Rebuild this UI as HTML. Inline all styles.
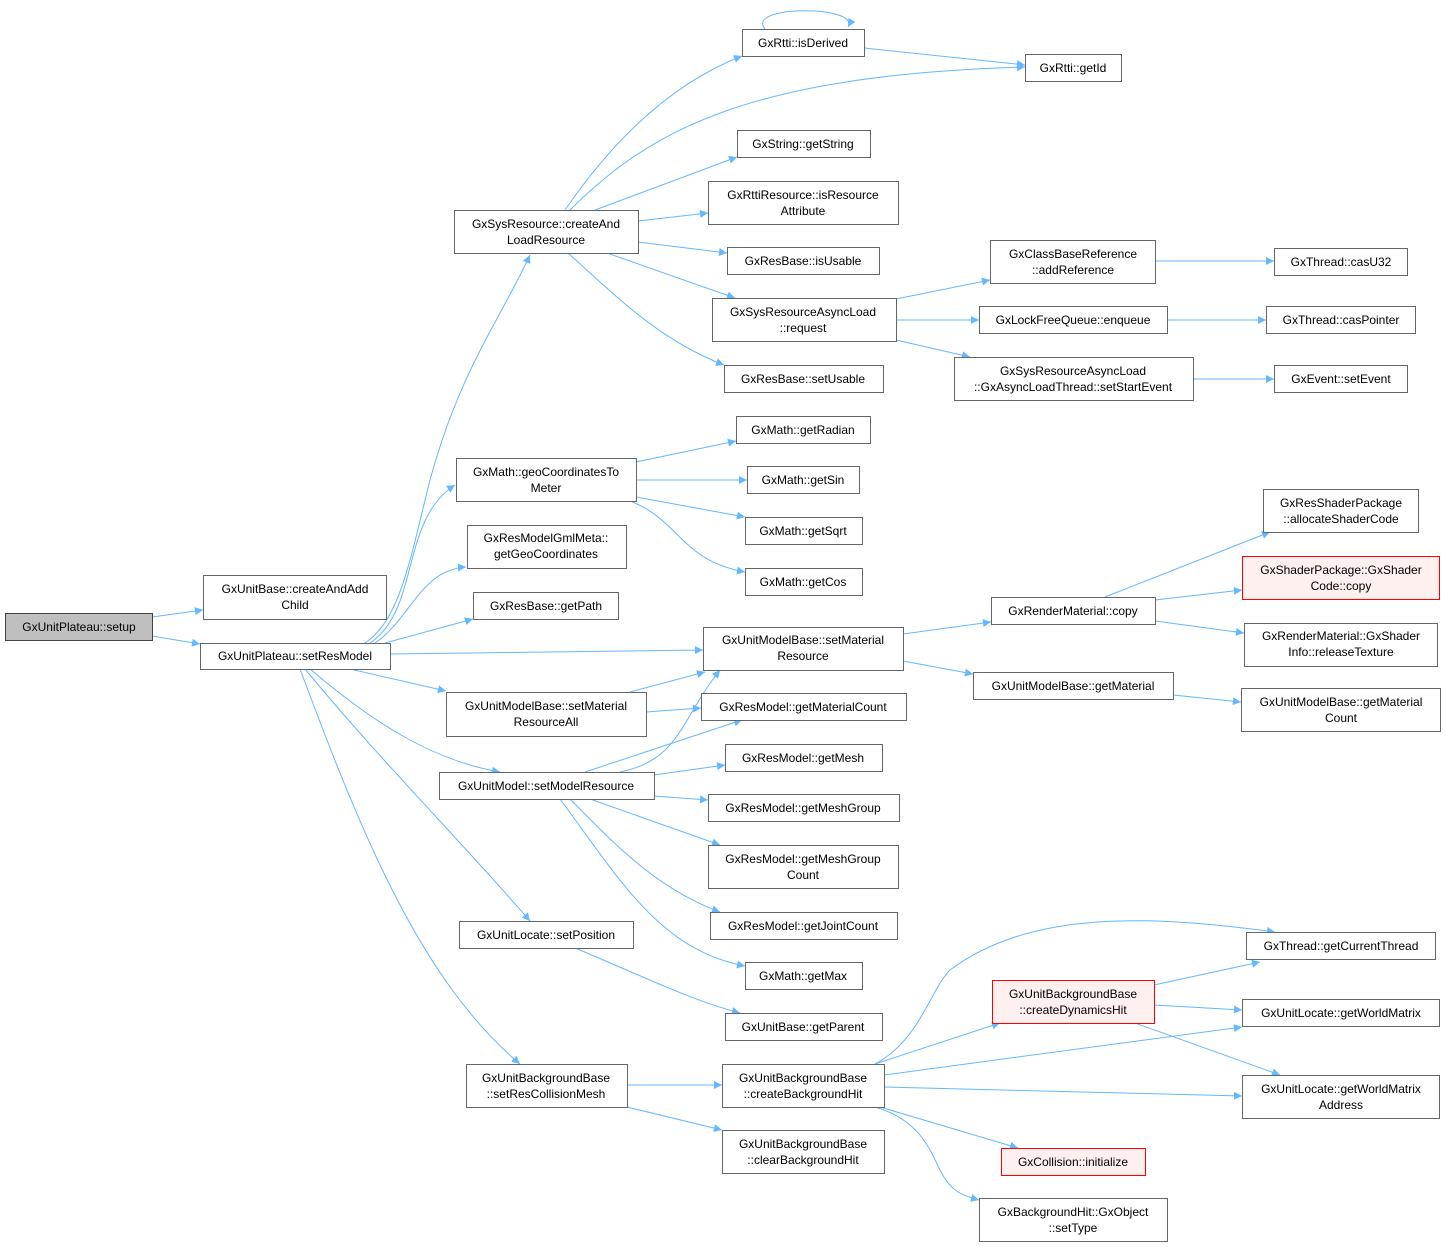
<!DOCTYPE html>
<html><head><meta charset="utf-8"><style>
html,body{margin:0;padding:0;background:#fff;}
svg{display:block}
text{font-family:"Liberation Sans",sans-serif;font-size:12px;fill:#000;text-anchor:middle}
.n{fill:#fff;stroke:#666;stroke-width:1}
.r{fill:#fff0f0;stroke:#f00;stroke-width:1}
.g{fill:#bfbfbf;stroke:#444;stroke-width:1}
.e{fill:none;stroke:#63b8ff;stroke-width:1;marker-end:url(#a)}
</style></head><body>
<svg width="1446" height="1247" viewBox="0 0 1446 1247" xmlns="http://www.w3.org/2000/svg">
<defs><marker id="a" viewBox="0 0 10 10" refX="10" refY="5" markerWidth="10" markerHeight="8" orient="auto" markerUnits="userSpaceOnUse"><path d="M0,0 L10,5 L0,10 z" fill="#63b8ff"/></marker></defs>
<g>
<path class="e" d="M152,617 L203,610"/>
<path class="e" d="M152,636 L200,644"/>
<path class="e" d="M365,643 C400,620 410,560 430,480 C460,370 500,320 530,255"/>
<path class="e" d="M370,643 C420,610 400,520 455,485"/>
<path class="e" d="M375,643 C410,620 420,570 466,567"/>
<path class="e" d="M385,643 L473,619"/>
<path class="e" d="M390,654 L703,650"/>
<path class="e" d="M350,669 L446,691"/>
<path class="e" d="M310,669 C370,720 430,760 500,772"/>
<path class="e" d="M305,669 C380,760 460,840 530,921"/>
<path class="e" d="M300,669 C360,830 420,980 520,1064"/>
<path class="e" d="M565,210 C620,130 680,80 742,56"/>
<path class="e" d="M570,210 C650,130 750,75 1025,67"/>
<path class="e" d="M595,210 L737,157"/>
<path class="e" d="M638,221 L708,213"/>
<path class="e" d="M638,242 L727,253"/>
<path class="e" d="M607,253 L735,298"/>
<path class="e" d="M568,253 C620,300 660,340 724,365"/>
<path class="e" d="M765,29 C745,5 860,5 848,27"/>
<path class="e" d="M864,48 L1025,65"/>
<path class="e" d="M896,299 L990,280"/>
<path class="e" d="M896,320 L979,320"/>
<path class="e" d="M896,340 L970,357"/>
<path class="e" d="M1155,261 L1274,261"/>
<path class="e" d="M1167,320 L1266,320"/>
<path class="e" d="M1193,379 L1274,379"/>
<path class="e" d="M636,462 L736,441"/>
<path class="e" d="M636,480 L747,480"/>
<path class="e" d="M636,497 L745,517"/>
<path class="e" d="M630,501 C680,520 680,560 745,572"/>
<path class="e" d="M903,634 L991,622"/>
<path class="e" d="M903,661 L973,674"/>
<path class="e" d="M1105,597 L1270,532"/>
<path class="e" d="M1155,600 L1242,590"/>
<path class="e" d="M1155,621 L1244,633"/>
<path class="e" d="M1173,695 L1241,702"/>
<path class="e" d="M630,692 L705,672"/>
<path class="e" d="M646,712 L701,708"/>
<path class="e" d="M620,772 C680,760 680,720 720,670"/>
<path class="e" d="M585,772 L742,720"/>
<path class="e" d="M654,775 L725,765"/>
<path class="e" d="M654,796 L708,800"/>
<path class="e" d="M590,799 L720,845"/>
<path class="e" d="M570,799 C620,850 660,890 720,912"/>
<path class="e" d="M560,799 C620,880 660,950 745,966"/>
<path class="e" d="M575,948 C640,975 690,1000 740,1013"/>
<path class="e" d="M627,1085 L722,1085"/>
<path class="e" d="M627,1107 L722,1130"/>
<path class="e" d="M875,1064 C920,1040 930,990 950,970 C1030,910 1150,915 1275,932"/>
<path class="e" d="M875,1064 L1000,1023"/>
<path class="e" d="M884,1075 L1242,1027"/>
<path class="e" d="M884,1087 L1242,1096"/>
<path class="e" d="M880,1107 L1018,1148"/>
<path class="e" d="M875,1107 C920,1120 930,1150 940,1170 C950,1190 960,1195 979,1200"/>
<path class="e" d="M1154,985 L1260,962"/>
<path class="e" d="M1154,1005 L1242,1010"/>
<path class="e" d="M1135,1023 L1280,1075"/>
</g>
<g>
<rect class="g" x="5.5" y="613.5" width="147" height="27"/><text x="79" y="631">GxUnitPlateau::setup</text>
<rect class="n" x="203.5" y="575.5" width="183" height="44"/><text x="295" y="593">GxUnitBase::createAndAdd</text><text x="295" y="609">Child</text>
<rect class="n" x="200.5" y="643.5" width="190" height="26"/><text x="295" y="660">GxUnitPlateau::setResModel</text>
<rect class="n" x="454.5" y="210.5" width="184" height="43"/><text x="546" y="228">GxSysResource::createAnd</text><text x="546" y="244">LoadResource</text>
<rect class="n" x="456.5" y="458.5" width="180" height="43"/><text x="546" y="476">GxMath::geoCoordinatesTo</text><text x="546" y="492">Meter</text>
<rect class="n" x="467.5" y="525.5" width="159" height="43"/><text x="546" y="542">GxResModelGmlMeta::</text><text x="546" y="558">getGeoCoordinates</text>
<rect class="n" x="473.5" y="592.5" width="145" height="27"/><text x="546" y="610">GxResBase::getPath</text>
<rect class="n" x="446.5" y="692.5" width="200" height="44"/><text x="546" y="710">GxUnitModelBase::setMaterial</text><text x="546" y="726">ResourceAll</text>
<rect class="n" x="439.5" y="772.5" width="215" height="27"/><text x="546" y="790">GxUnitModel::setModelResource</text>
<rect class="n" x="459.5" y="921.5" width="174" height="27"/><text x="546" y="939">GxUnitLocate::setPosition</text>
<rect class="n" x="466.5" y="1064.5" width="161" height="43"/><text x="546" y="1082">GxUnitBackgroundBase</text><text x="546" y="1098">::setResCollisionMesh</text>

<rect class="n" x="742.5" y="29.5" width="122" height="27"/><text x="803" y="47">GxRtti::isDerived</text>
<rect class="n" x="1025.5" y="54.5" width="96" height="27"/><text x="1073" y="72">GxRtti::getId</text>
<rect class="n" x="737.5" y="130.5" width="133" height="27"/><text x="803" y="148">GxString::getString</text>
<rect class="n" x="708.5" y="181.5" width="190" height="43"/><text x="803" y="199">GxRttiResource::isResource</text><text x="803" y="215">Attribute</text>
<rect class="n" x="727.5" y="247.5" width="152" height="27"/><text x="803" y="265">GxResBase::isUsable</text>
<rect class="n" x="712.5" y="298.5" width="184" height="43"/><text x="803" y="316">GxSysResourceAsyncLoad</text><text x="803" y="332">::request</text>
<rect class="n" x="724.5" y="365.5" width="159" height="27"/><text x="803" y="383">GxResBase::setUsable</text>
<rect class="n" x="736.5" y="416.5" width="134" height="27"/><text x="803" y="434">GxMath::getRadian</text>
<rect class="n" x="747.5" y="466.5" width="112" height="27"/><text x="803" y="484">GxMath::getSin</text>
<rect class="n" x="745.5" y="517.5" width="117" height="27"/><text x="803" y="535">GxMath::getSqrt</text>
<rect class="n" x="745.5" y="568.5" width="117" height="27"/><text x="803" y="586">GxMath::getCos</text>
<rect class="n" x="703.5" y="627.5" width="200" height="43"/><text x="803" y="644">GxUnitModelBase::setMaterial</text><text x="803" y="660">Resource</text>
<rect class="n" x="701.5" y="693.5" width="205" height="27"/><text x="803" y="711">GxResModel::getMaterialCount</text>
<rect class="n" x="725.5" y="744.5" width="157" height="27"/><text x="803" y="762">GxResModel::getMesh</text>
<rect class="n" x="708.5" y="794.5" width="191" height="27"/><text x="803" y="812">GxResModel::getMeshGroup</text>
<rect class="n" x="708.5" y="845.5" width="190" height="43"/><text x="803" y="863">GxResModel::getMeshGroup</text><text x="803" y="879">Count</text>
<rect class="n" x="710.5" y="912.5" width="187" height="27"/><text x="803" y="930">GxResModel::getJointCount</text>
<rect class="n" x="745.5" y="962.5" width="117" height="27"/><text x="803" y="980">GxMath::getMax</text>
<rect class="n" x="725.5" y="1013.5" width="157" height="27"/><text x="803" y="1031">GxUnitBase::getParent</text>
<rect class="n" x="722.5" y="1064.5" width="162" height="43"/><text x="803" y="1082">GxUnitBackgroundBase</text><text x="803" y="1098">::createBackgroundHit</text>
<rect class="n" x="722.5" y="1130.5" width="162" height="43"/><text x="803" y="1148">GxUnitBackgroundBase</text><text x="803" y="1164">::clearBackgroundHit</text>

<rect class="n" x="990.5" y="240.5" width="165" height="43"/><text x="1073" y="258">GxClassBaseReference</text><text x="1073" y="274">::addReference</text>
<rect class="n" x="979.5" y="306.5" width="188" height="27"/><text x="1073" y="324">GxLockFreeQueue::enqueue</text>
<rect class="n" x="954.5" y="357.5" width="239" height="43"/><text x="1073" y="375">GxSysResourceAsyncLoad</text><text x="1073" y="391">::GxAsyncLoadThread::setStartEvent</text>
<rect class="n" x="991.5" y="597.5" width="164" height="27"/><text x="1073" y="615">GxRenderMaterial::copy</text>
<rect class="n" x="973.5" y="672.5" width="200" height="27"/><text x="1073" y="690">GxUnitModelBase::getMaterial</text>
<rect class="r" x="992.5" y="980.5" width="162" height="43"/><text x="1073" y="998">GxUnitBackgroundBase</text><text x="1073" y="1014">::createDynamicsHit</text>
<rect class="r" x="1001.5" y="1148.5" width="144" height="27"/><text x="1073" y="1166">GxCollision::initialize</text>
<rect class="n" x="979.5" y="1198.5" width="188" height="43"/><text x="1073" y="1216">GxBackgroundHit::GxObject</text><text x="1073" y="1232">::setType</text>

<rect class="n" x="1274.5" y="248.5" width="133" height="27"/><text x="1341" y="266">GxThread::casU32</text>
<rect class="n" x="1266.5" y="306.5" width="149" height="27"/><text x="1341" y="324">GxThread::casPointer</text>
<rect class="n" x="1274.5" y="365.5" width="133" height="27"/><text x="1341" y="383">GxEvent::setEvent</text>
<rect class="n" x="1263.5" y="489.5" width="155" height="43"/><text x="1341" y="507">GxResShaderPackage</text><text x="1341" y="523">::allocateShaderCode</text>
<rect class="r" x="1242.5" y="556.5" width="197" height="43"/><text x="1341" y="574">GxShaderPackage::GxShader</text><text x="1341" y="590">Code::copy</text>
<rect class="n" x="1244.5" y="623.5" width="193" height="43"/><text x="1341" y="640">GxRenderMaterial::GxShader</text><text x="1341" y="656">Info::releaseTexture</text>
<rect class="n" x="1241.5" y="688.5" width="199" height="43"/><text x="1341" y="706">GxUnitModelBase::getMaterial</text><text x="1341" y="722">Count</text>
<rect class="n" x="1246.5" y="932.5" width="189" height="27"/><text x="1341" y="950">GxThread::getCurrentThread</text>
<rect class="n" x="1242.5" y="999.5" width="197" height="27"/><text x="1341" y="1017">GxUnitLocate::getWorldMatrix</text>
<rect class="n" x="1242.5" y="1075.5" width="197" height="43"/><text x="1341" y="1093">GxUnitLocate::getWorldMatrix</text><text x="1341" y="1109">Address</text>
</g>
</svg>
</body></html>
